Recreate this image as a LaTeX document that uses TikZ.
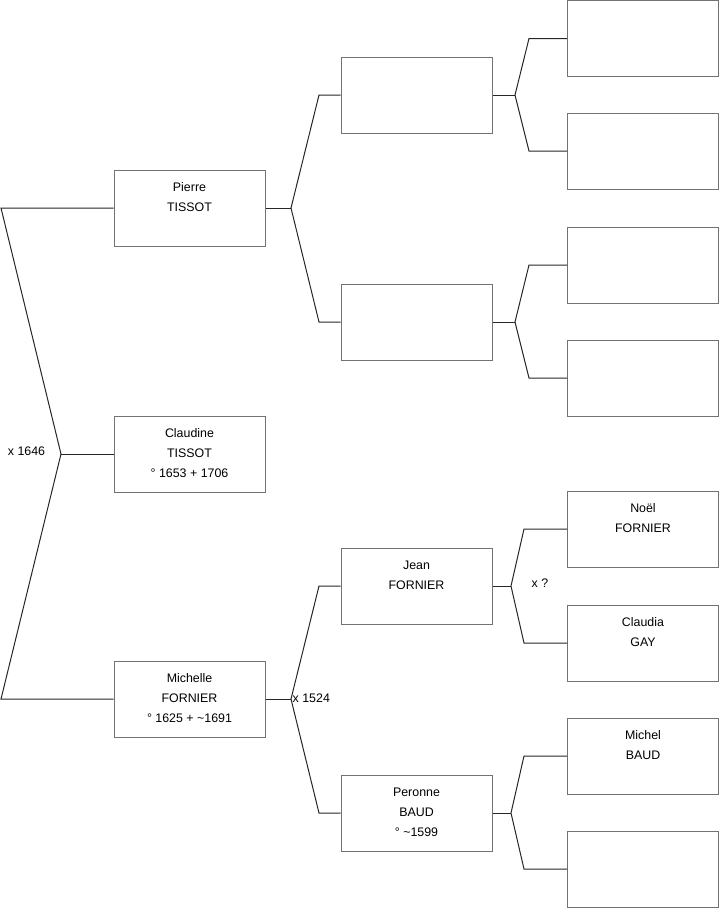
\documentclass[tikz,border=0pt]{standalone}
\usepackage{fontspec}
\setmainfont{Liberation Sans}
\newcommand{\tld}{{\char"7E}}
\begin{document}
\begin{tikzpicture}[x=1pt,y=-1pt,
  box/.style={draw=black!55,line width=1pt,minimum width=151pt,minimum height=76pt,inner sep=0pt},
  txt/.style={anchor=north,inner sep=0pt,align=center,font=\fontsize{12.4}{20}\selectfont,yshift=-13pt},
  lab/.style={inner sep=0pt,font=\fontsize{12.4}{14}\selectfont},
  conn/.style={draw=black!85,line width=1pt}]
\useasboundingbox (0,0) rectangle (719,908);
% level 1
\node[box] (p) at (189.5,208) {};
\node[box] (c) at (189.5,454) {};
\node[box] (m) at (189.5,699) {};
% level 2
\node[box] (a) at (416.5,95) {};
\node[box] (b) at (416.5,322) {};
\node[box] (j) at (416.5,586) {};
\node[box] (pb) at (416.5,813) {};
% level 3
\node[box] (a1) at (643,38.5) {};
\node[box] (a2) at (643,151) {};
\node[box] (b1) at (643,265) {};
\node[box] (b2) at (643,378) {};
\node[box] (j1) at (643,529) {};
\node[box] (j2) at (643,643) {};
\node[box] (q1) at (643,756) {};
\node[box] (q2) at (643,869) {};
% texts
\node[txt] (tp) at (p.north) {Pierre\\TISSOT};
\node[txt] (tc) at (c.north) {Claudine\\TISSOT\\° 1653 + 1706};
\node[txt] (tm) at (m.north) {Michelle\\FORNIER\\° 1625 + \tld1691};
\node[txt] (tj) at (j.north) {Jean\\FORNIER};
\node[txt] (tpb) at (pb.north) {Peronne\\BAUD\\° \tld1599};
\node[txt] (tj1) at (j1.north) {Noël\\FORNIER};
\node[txt] (tj2) at (j2.north) {Claudia\\GAY};
\node[txt] (tq1) at (q1.north) {Michel\\BAUD};
% coordinates
\coordinate (r) at (61,454);
\coordinate (r1) at (1,208);
\coordinate (r2) at (1,699);
\coordinate (pf) at (291,208);
\coordinate (pa) at (319,95);
\coordinate (pbb) at (319,322);
\coordinate (mf) at (291,699);
\coordinate (ma) at (319,586);
\coordinate (mb) at (319,813);
\coordinate (af) at (515,95);
\coordinate (aa) at (529,38.5);
\coordinate (ab) at (529,151);
\coordinate (bf) at (515,322);
\coordinate (ba) at (529,265);
\coordinate (bb) at (529,378);
\coordinate (jf) at (511,586);
\coordinate (ja) at (524,529);
\coordinate (jb) at (524,643);
\coordinate (qf) at (511,813);
\coordinate (qa) at (524,756);
\coordinate (qb) at (524,869);
% connectors
\draw[conn] (p.west) -- (r1) -- (r) -- (r2) -- (m.west);
\draw[conn] (r) -- (c.west);
\draw[conn] (p.east) -- (pf);
\draw[conn] (a.west) -- (pa) -- (pf) -- (pbb) -- (b.west);
\draw[conn] (m.east) -- (mf);
\draw[conn] (j.west) -- (ma) -- (mf) -- (mb) -- (pb.west);
\draw[conn] (a.east) -- (af);
\draw[conn] (a1.west) -- (aa) -- (af) -- (ab) -- (a2.west);
\draw[conn] (b.east) -- (bf);
\draw[conn] (b1.west) -- (ba) -- (bf) -- (bb) -- (b2.west);
\draw[conn] (j.east) -- (jf);
\draw[conn] (j1.west) -- (ja) -- (jf) -- (jb) -- (j2.west);
\draw[conn] (pb.east) -- (qf);
\draw[conn] (q1.west) -- (qa) -- (qf) -- (qb) -- (q2.west);
% labels
\node[lab] (l1) at (26.5,451) {x 1646};
\node[lab,anchor=west] (l2) at (292.5,698) {x 1524};
\node[lab] (l3) at (540,583) {x ?};
\end{tikzpicture}
\end{document}
